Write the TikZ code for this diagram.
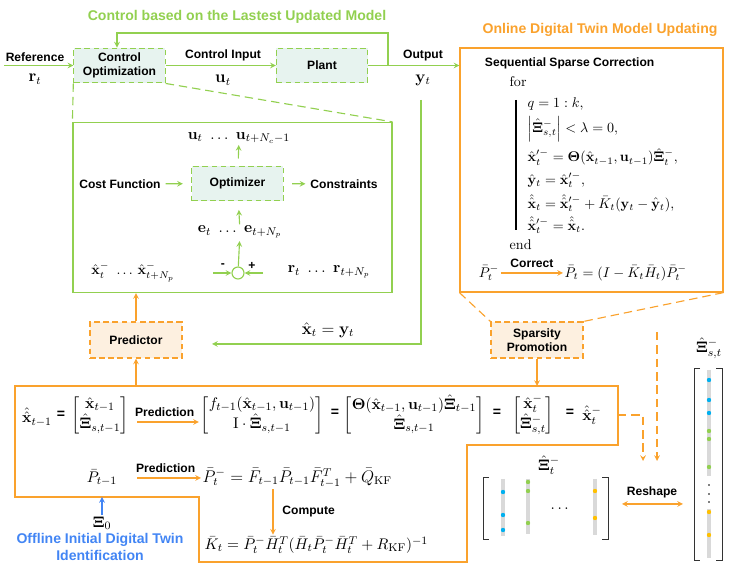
\documentclass[tikz,border=0pt]{standalone}
\usepackage{amsmath,amssymb}
\usepackage[no-math]{fontspec}
\newfontfamily\lblfont{Liberation Sans}
\usepackage{tikz}
\usetikzlibrary{arrows,positioning}
\definecolor{ctrlgreen}{RGB}{146,208,80}
\definecolor{dtorange}{RGB}{250,162,45}
\definecolor{offblue}{RGB}{66,133,244}
\definecolor{ctrlfill}{RGB}{231,243,239}
\definecolor{predfill}{RGB}{253,240,224}
\definecolor{dotblue}{RGB}{0,176,240}
\definecolor{dotgreen}{RGB}{146,208,80}
\definecolor{dotyellow}{RGB}{255,192,0}
\newcommand{\hXi}{\hat{\mathbf{\Xi}}}
\newcommand{\hx}{\hat{\mathbf{x}}}
\newcommand{\hhx}{\hat{\hat{\mathbf{x}}}}

\begin{document}
\begin{tikzpicture}[
  x=0.025cm, y=-0.025cm,
  lbl/.style={font=\lblfont\bfseries\fontsize{8.6}{10}\selectfont},
  ttl/.style={font=\lblfont\bfseries\fontsize{10}{12}\selectfont},
  mth/.style={font=\fontsize{11}{13}\selectfont, inner sep=1pt},
  mths/.style={font=\fontsize{10}{12}\selectfont, inner sep=1pt},
  mthb/.style={font=\fontsize{12}{14}\selectfont, inner sep=1pt},
  eqs/.style={font=\lblfont\bfseries\fontsize{10}{12}\selectfont, inner sep=1pt},
  ctrlbox/.style={draw=ctrlgreen, dash pattern=on 4pt off 2.5pt, fill=ctrlfill,
                  line width=0.8pt, align=center, lbl,
                  minimum width=2.28cm, minimum height=0.87cm},
  predbox/.style={draw=dtorange, dash pattern=on 4pt off 2.5pt, fill=predfill,
                  line width=0.8pt, align=center, lbl,
                  minimum width=2.3cm, minimum height=0.9cm},
  sumnode/.style={circle, draw=ctrlgreen, line width=0.8pt,
                  minimum size=0.3cm, inner sep=0pt},
  garr/.style={->, >=stealth, draw=ctrlgreen, line width=0.8pt},
  oarr/.style={->, >=stealth, draw=dtorange, line width=0.8pt},
  barr/.style={->, >=stealth, draw=offblue, line width=0.8pt},
  gdash/.style={draw=ctrlgreen, line width=0.8pt, dash pattern=on 6pt off 3.5pt},
  odash/.style={draw=dtorange, line width=0.8pt, dash pattern=on 6pt off 3.5pt, >=stealth},
  oline/.style={draw=dtorange, line width=0.8pt},
  brk/.style={draw=black!80, line width=0.7pt},
  vbar/.style={draw=black!15, line width=2.8pt},
]
  \useasboundingbox (0,0) rectangle (732,569);

  %% ---- TITLES ----
  \node[ttl, text=ctrlgreen] (ctitle) at (237,17) {Control based on the Lastest Updated Model};
  \node[ttl, text=dtorange] (dtitle) at (600,30) {Online Digital Twin Model Updating};

  %% ---- CONTROL LOOP ----
  \node[ctrlbox] (ctrlopt) at (119.5,65.5) {Control\\Optimization};
  \node[ctrlbox] (plant) at (322,65.5) {Plant};
  \node[lbl] (reflbl) at (35,57) {Reference};
  \node[mthb] (refsym) at (35,79) {$\mathbf{r}_t$};
  \coordinate (refin) at (4,65.5);
  \draw[garr] (refin) -- (ctrlopt);
  \draw[garr] (ctrlopt) -- (plant);
  \node[lbl] (uinlbl) at (223,55) {Control Input};
  \node[mthb] (usym) at (223,80) {$\mathbf{u}_t$};

  \node[draw=dtorange, line width=0.8pt, minimum width=6.575cm,
        minimum height=6.1cm] (dtbox) at (591.5,170) {};
  \draw[garr] (plant) -- (plant -| dtbox.west);
  \node[lbl] (outlbl) at (423,56) {Output};
  \node[mthb] (ysym) at (423,80) {$\mathbf{y}_t$};
  \coordinate (fbk) at (388,65.5);
  \coordinate (fbtop) at (117,33);
  \draw[garr] (fbk) |- (fbtop) -- (fbtop |- ctrlopt.north);

  %% ---- MPC DETAIL ----
  \node[draw=ctrlgreen, line width=0.8pt, minimum width=7.975cm,
        minimum height=4.25cm] (mpc) at (232.5,207.5) {};
  \draw[gdash] (ctrlopt.south west) -- (mpc.north west);
  \draw[gdash] (ctrlopt.south east) -- (mpc.north east);

  \node[ctrlbox] (opt) at (237.5,183.5) {Optimizer};
  \node[mth] (uvec) at (239,138) {$\mathbf{u}_t\ \ldots\ \mathbf{u}_{t+N_c-1}$};
  \node[lbl] (costfn) at (120,184) {Cost Function};
  \node[lbl] (constr) at (344,184) {Constraints};
  \node[mth] (evec) at (240,232) {$\mathbf{e}_t\ \ldots\ \mathbf{e}_{t+N_p}$};
  \node[sumnode] (sum) at (238,273) {};
  \node[mths] (xvec) at (133,272) {$\hx^-_t\ \ldots\,\hx^-_{t+N_p}$};
  \node[mth] (rvec) at (329,272) {$\mathbf{r}_t\ \ldots\ \mathbf{r}_{t+N_p}$};
  \draw[garr, shorten <=5pt] (opt) -- (uvec);
  \draw[garr, shorten >=6pt] (costfn) -- (opt);
  \draw[garr, shorten <=6pt] (opt) -- (constr);
  \draw[garr, shorten >=6pt] (evec) -- (opt);
  \draw[garr, shorten >=1pt] (sum) -- (evec);
  \coordinate (sumL) at (213,273);
  \coordinate (sumR) at (263,273);
  \draw[garr] (sumL) -- (sum);
  \draw[garr] (sumR) -- (sum);
  \node[lbl] (minus) at (223,266) {-};
  \node[lbl] (plus) at (252,266) {+};

  %% ---- PREDICTOR ----
  \node[predbox] (pred) at (136,340) {Predictor};
  \draw[oarr] (pred) -- (pred |- mpc.south);
  \coordinate (ydrop) at (421,100);
  \coordinate (xin) at (212,344);
  \draw[garr] (ydrop) |- (xin);
  \node[mthb] (xeqy) at (328,330) {$\hx_t=\mathbf{y}_t$};

  %% ---- SEQUENTIAL SPARSE CORRECTION ----
  \node[lbl, anchor=west] (ssc) at (480,63) {Sequential Sparse Correction};
  \node[mths, anchor=west] (forkw) at (508,82) {for};
  \node[mths, anchor=west] (eqa) at (526,104) {$q=1:k,$};
  \node[mths, anchor=west] (eqb) at (526,129) {$\left|\hXi^-_{s,t}\right| < \lambda = 0,$};
  \node[mths, anchor=west] (eqc) at (526,157) {$\hx'^-_t = \mathbf{\Theta}(\hx_{t-1},\mathbf{u}_{t-1})\hXi^-_t,$};
  \node[mths, anchor=west] (eqd) at (526,180) {$\hat{\mathbf{y}}_t = \hx'^-_t,$};
  \node[mths, anchor=west] (eqe) at (526,203) {$\hhx_t = \hhx'^-_t + \bar K_t(\mathbf{y}_t - \hat{\mathbf{y}}_t),$};
  \node[mths, anchor=west] (eqf) at (526,225) {$\hhx'^-_t = \hhx_t.$};
  \draw[line width=1.4pt] (516,100) -- (516,230);
  \node[mths, anchor=west] (endkw) at (508,245) {end};
  \node[mths] (pminus) at (489,273) {$\bar P^-_t$};
  \node[mths, anchor=west] (pcorr) at (563,273) {$\bar P_t = (I-\bar K_t\bar H_t)\bar P^-_t$};
  \draw[oarr] (pminus) -- node[lbl, above] {Correct} (pcorr);

  %% ---- SPARSITY PROMOTION ----
  \node[predbox] (sparse) at (537,340) {Sparsity\\Promotion};
  \draw[odash] (dtbox.south west) -- (sparse.north west);
  \draw[odash] (dtbox.south east) -- (sparse.north east);

  %% ---- KALMAN PREDICTION BOX ----
  \coordinate (kfA) at (15,386);
  \coordinate (kfB) at (618,386);
  \coordinate (kfC) at (618,445);
  \coordinate (kfD) at (467,445);
  \coordinate (kfE) at (467,562);
  \coordinate (kfF) at (199,562);
  \coordinate (kfG) at (199,497);
  \coordinate (kfH) at (15,497);
  \draw[oline] (kfA) -- (kfB) -- (kfC) -- (kfD) -- (kfE) -- (kfF) -- (kfG) -- (kfH) -- cycle;
  \draw[oarr] (pred |- kfA) -- (pred);
  \draw[oarr] (sparse) -- (sparse |- kfA);

  \node[mth] (xkf) at (37,417) {$\hhx_{t-1}$};
  \node[eqs] (eqs1) at (61,415) {=};
  \node[mth] (m1) at (100,415) {$\begin{bmatrix}\hx_{t-1}\\ \hXi_{s,t-1}\end{bmatrix}$};
  \node[mth] (m2) at (262,415) {$\begin{bmatrix} f_{t-1}(\hx_{t-1},\mathbf{u}_{t-1})\\ \mathrm{I}\cdot\hXi_{s,t-1}\end{bmatrix}$};
  \draw[oarr, shorten <=5pt] ([yshift=-5pt]m1.east) -- node[lbl, above] {Prediction} ([yshift=-5pt]m1.east -| m2.west);
  \node[eqs] (eqs2) at (335,413) {=};
  \node[mth] (m3) at (414,415) {$\begin{bmatrix}\mathbf{\Theta}(\hx_{t-1},\mathbf{u}_{t-1})\hXi_{t-1}\\ \hXi_{s,t-1}\end{bmatrix}$};
  \node[eqs] (eqs3) at (497,413) {=};
  \node[mth] (m4) at (533,415) {$\begin{bmatrix}\hx^-_t\\ \hXi^-_{s,t}\end{bmatrix}$};
  \node[eqs] (eqs4) at (570,413) {=};
  \node[mth] (xfin) at (592,415) {$\hhx^-_t$};

  \node[mth] (pprev) at (102,478) {$\bar P_{t-1}$};
  \node[anchor=west, inner sep=1pt, font=\fontsize{11.5}{13}\selectfont] (ppred) at (201,478) {$\bar P^-_t = \bar F_{t-1}\bar P_{t-1}\bar F^T_{t-1} + \bar Q_{\mathrm{KF}}$};
  \draw[oarr, shorten <=5pt] (pprev.east -| m1.east) -- node[lbl, above] {Prediction} (ppred.west);
  \coordinate (cmpx) at (273,0);
  \node[mth, anchor=west] (kgain) at (203,545) {$\bar K_t = \bar P^-_t\bar H^T_t(\bar H_t\bar P^-_t\bar H^T_t + R_{\mathrm{KF}})^{-1}$};
  \draw[oarr] (ppred.south -| cmpx) -- node[lbl, right, xshift=3pt] {Compute} (kgain.north -| cmpx);

  %% ---- OFFLINE IDENTIFICATION ----
  \node[mth] (xi0) at (102,523) {$\mathbf{\Xi}_0$};
  \draw[barr] (xi0) -- (xi0 |- kfG);
  \node[ttl, text=offblue, align=center] (offlbl) at (100,547) {Offline Initial Digital Twin\\Identification};

  %% ---- RESHAPED COEFFICIENTS ----
  \coordinate (kfout) at (618,415);
  \coordinate (dashA) at (643,461);
  \draw[odash, ->] (kfout) -| (dashA);
  \coordinate (dashB) at (657,332);
  \coordinate (dashC) at (657,461);
  \draw[odash, ->] (dashB) -- (dashC);

  \node[mth] (xilbl) at (549,465) {$\hXi^-_t$};
  \draw[brk] (489,477) -| (483,539) -- (489,539);
  \draw[brk] (602,477) -| (608,539) -- (602,539);
  \draw[vbar] (503,479) -- (503,536);
  \draw[vbar] (528,479) -- (528,534);
  \draw[vbar] (595,479) -- (595,535);
  \fill[dotblue] (503,492) circle (2.2) (503,515) circle (2.2) (503,530) circle (2.2);
  \fill[dotgreen] (528,482) circle (2.2) (528,491) circle (2.2) (528,523) circle (2.2);
  \fill[dotyellow] (595,491) circle (2.2) (595,518) circle (2.2);
  \node[mth] (xidots) at (561,509) {$\cdots$};

  \coordinate (reshL) at (622,504);
  \coordinate (reshR) at (683,504);
  \draw[oarr, <->] (reshL) -- (reshR);
  \node[lbl] (reshlbl) at (652,492) {Reshape};

  \node[mth] (xistlbl) at (709,348) {$\hXi^-_{s,t}$};
  \draw[brk] (700,368) -| (694,560) -- (700,560);
  \draw[brk] (716,368) -| (722,560) -- (716,560);
  \draw[vbar] (709,370) -- (709,476);
  \draw[vbar] (709,509) -- (709,558);
  \fill[dotblue] (709,380) circle (2.2) (709,400) circle (2.2) (709,413) circle (2.2);
  \fill[dotgreen] (709,431) circle (2.2) (709,439) circle (2.2) (709,467) circle (2.2);
  \fill[black] (709,485) circle (0.9) (709,494) circle (0.9) (709,502) circle (0.9);
  \fill[dotyellow] (709,512) circle (2.2) (709,535) circle (2.2);
\end{tikzpicture}
\end{document}
